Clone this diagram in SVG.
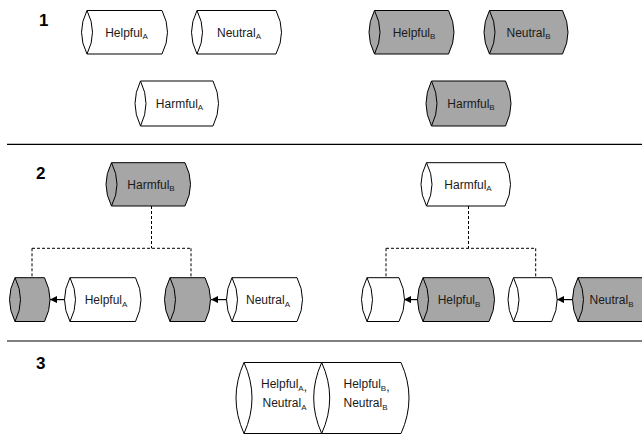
<svg xmlns="http://www.w3.org/2000/svg" width="642" height="434" viewBox="0 0 642 434">
<style>
.w{fill:#ffffff;stroke:#000;stroke-width:1}
.g{fill:#a6a6a6;stroke:#000;stroke-width:1}
.lens{fill:none;stroke:#000;stroke-width:1}
.t{font-family:"Liberation Sans",Arial,sans-serif;font-size:12px;fill:#1a1a1a;text-anchor:middle}
.s{font-size:8px}
.num{font-family:"Liberation Sans",Arial,sans-serif;font-size:17px;font-weight:bold;fill:#000}
.sep{stroke:#000;stroke-width:1.2}
.dash{fill:none;stroke:#000;stroke-width:1;stroke-dasharray:3,2}
.arr{stroke:#000;stroke-width:1.2;marker-end:url(#ah)}
</style>
<defs>
<marker id="ah" viewBox="0 0 10 10" refX="10" refY="5" markerWidth="7" markerHeight="7" markerUnits="userSpaceOnUse" orient="auto">
<path d="M0,0 L10,5 L0,10 Z" fill="#000"/>
</marker>
</defs>
<rect width="642" height="434" fill="#fff"/>

<text class="num" x="39" y="26">1</text>
<text class="num" x="36" y="179">2</text>
<text class="num" x="36" y="369">3</text>

<line class="sep" x1="7" y1="144.3" x2="642" y2="144.3"/>
<line class="sep" x1="7" y1="341" x2="642" y2="341"/>

<g id="connectors">
<path class="dash" d="M151.5,206 V248.3 M32,248.3 H191 M32,248.3 V277.7 M191,248.3 V277.7"/>
<path class="dash" d="M468.5,206 V248.3 M386,248.3 H535.7 M386,248.3 V277.7 M535.7,248.3 V277.7"/>
<line class="arr" x1="70" y1="299.6" x2="50" y2="299.6"/>
<line class="arr" x1="232" y1="299.6" x2="211" y2="299.6"/>
<line class="arr" x1="423" y1="299.6" x2="404" y2="299.6"/>
<line class="arr" x1="578" y1="299.6" x2="557" y2="299.6"/>
</g>

<!-- Section 1 -->
<g id="helpfulA1">
<path class="w" d="M87,10.5 L162,10.5 Q173,32.25 162,54 L87,54 Q76,32.25 87,10.5 Z"/>
<path class="lens" d="M87,10.5 Q98,32.25 87,54"/>
<text class="t" x="126.5" y="36.5">Helpful<tspan class="s" dy="2.5">A</tspan></text>
</g>
<g id="neutralA1">
<path class="w" d="M197,10.5 L276,10.5 Q287,32.25 276,54 L197,54 Q186,32.25 197,10.5 Z"/>
<path class="lens" d="M197,10.5 Q208,32.25 197,54"/>
<text class="t" x="239" y="36.5">Neutral<tspan class="s" dy="2.5">A</tspan></text>
</g>
<g id="harmfulA1">
<path class="w" d="M140.5,81 L213,81 Q224,103.5 213,126 L140.5,126 Q129.5,103.5 140.5,81 Z"/>
<path class="lens" d="M140.5,81 Q151.5,103.5 140.5,126"/>
<text class="t" x="179.5" y="107.5">Harmful<tspan class="s" dy="2.5">A</tspan></text>
</g>
<g id="helpfulB1">
<path class="g" d="M374.5,10.5 L448.5,10.5 Q459.5,32.25 448.5,54 L374.5,54 Q363.5,32.25 374.5,10.5 Z"/>
<path class="lens" d="M374.5,10.5 Q385.5,32.25 374.5,54"/>
<text class="t" x="414" y="36.5">Helpful<tspan class="s" dy="2.5">B</tspan></text>
</g>
<g id="neutralB1">
<path class="g" d="M489.5,10.5 L562.5,10.5 Q573.5,32.25 562.5,54 L489.5,54 Q478.5,32.25 489.5,10.5 Z"/>
<path class="lens" d="M489.5,10.5 Q500.5,32.25 489.5,54"/>
<text class="t" x="528.5" y="36.5">Neutral<tspan class="s" dy="2.5">B</tspan></text>
</g>
<g id="harmfulB1">
<path class="g" d="M431.5,81 L505.5,81 Q516.5,103.5 505.5,126 L431.5,126 Q420.5,103.5 431.5,81 Z"/>
<path class="lens" d="M431.5,81 Q442.5,103.5 431.5,126"/>
<text class="t" x="471" y="107.5">Harmful<tspan class="s" dy="2.5">B</tspan></text>
</g>

<!-- Section 2 -->
<g id="harmfulB2">
<path class="g" d="M111.5,162.7 L185,162.7 Q196,184.35 185,206 L111.5,206 Q100.5,184.35 111.5,162.7 Z"/>
<path class="lens" d="M111.5,162.7 Q122.5,184.35 111.5,206"/>
<text class="t" x="151" y="188.5">Harmful<tspan class="s" dy="2.5">B</tspan></text>
</g>
<g id="slotB1">
<path class="g" d="M15,277.7 L44.5,277.7 Q55.5,299.6 44.5,321.5 L15,321.5 Q4,299.6 15,277.7 Z"/>
<path class="lens" d="M15,277.7 Q26,299.6 15,321.5"/>
</g>
<g id="helpfulA2">
<path class="w" d="M70,277.7 L135.5,277.7 Q146.5,299.6 135.5,321.5 L70,321.5 Q59,299.6 70,277.7 Z"/>
<path class="lens" d="M70,277.7 Q81,299.6 70,321.5"/>
<text class="t" x="106" y="304">Helpful<tspan class="s" dy="2.5">A</tspan></text>
</g>
<g id="slotB2">
<path class="g" d="M170,277.7 L205,277.7 Q216,299.6 205,321.5 L170,321.5 Q159,299.6 170,277.7 Z"/>
<path class="lens" d="M170,277.7 Q181,299.6 170,321.5"/>
</g>
<g id="neutralA2">
<path class="w" d="M232,277.7 L297,277.7 Q308,299.6 297,321.5 L232,321.5 Q221,299.6 232,277.7 Z"/>
<path class="lens" d="M232,277.7 Q243,299.6 232,321.5"/>
<text class="t" x="268" y="304">Neutral<tspan class="s" dy="2.5">A</tspan></text>
</g>
<g id="harmfulA2">
<path class="w" d="M426.5,162.7 L505,162.7 Q516,184.35 505,206 L426.5,206 Q415.5,184.35 426.5,162.7 Z"/>
<path class="lens" d="M426.5,162.7 Q437.5,184.35 426.5,206"/>
<text class="t" x="468" y="188.5">Harmful<tspan class="s" dy="2.5">A</tspan></text>
</g>
<g id="slotA1">
<path class="w" d="M367,277.7 L399,277.7 Q410,299.6 399,321.5 L367,321.5 Q356,299.6 367,277.7 Z"/>
<path class="lens" d="M367,277.7 Q378,299.6 367,321.5"/>
</g>
<g id="helpfulB2">
<path class="g" d="M423,277.7 L489,277.7 Q500,299.6 489,321.5 L423,321.5 Q412,299.6 423,277.7 Z"/>
<path class="lens" d="M423,277.7 Q434,299.6 423,321.5"/>
<text class="t" x="459" y="304">Helpful<tspan class="s" dy="2.5">B</tspan></text>
</g>
<g id="slotA2">
<path class="w" d="M513.5,277.7 L551.7,277.7 Q562.7,299.6 551.7,321.5 L513.5,321.5 Q502.5,299.6 513.5,277.7 Z"/>
<path class="lens" d="M513.5,277.7 Q524.5,299.6 513.5,321.5"/>
</g>
<g id="neutralB2">
<path class="g" d="M578,277.7 L644,277.7 Q655,299.6 644,321.5 L578,321.5 Q567,299.6 578,277.7 Z"/>
<path class="lens" d="M578,277.7 Q589,299.6 578,321.5"/>
<text class="t" x="611.5" y="304">Neutral<tspan class="s" dy="2.5">B</tspan></text>
</g>

<!-- Section 3 -->
<g id="mergedA">
<path class="w" d="M244,362.5 L321.7,362.5 Q337.7,398 321.7,433.5 L244,433.5 Q228,398 244,362.5 Z"/>
<path class="lens" d="M244,362.5 Q260,398 244,433.5"/>
<text class="t" x="284" y="388">Helpful<tspan class="s" dy="2.5">A</tspan>,</text>
<text class="t" x="284.5" y="407">Neutral<tspan class="s" dy="2.5">A</tspan></text>
</g>
<g id="mergedB">
<path class="w" d="M321.7,362.5 L401,362.5 Q417,398 401,433.5 L321.7,433.5 Q305.7,398 321.7,362.5 Z"/>
<path class="lens" d="M321.7,362.5 Q337.7,398 321.7,433.5"/>
<text class="t" x="366.5" y="388">Helpful<tspan class="s" dy="2.5">B</tspan>,</text>
<text class="t" x="365.5" y="407">Neutral<tspan class="s" dy="2.5">B</tspan></text>
</g>
</svg>
